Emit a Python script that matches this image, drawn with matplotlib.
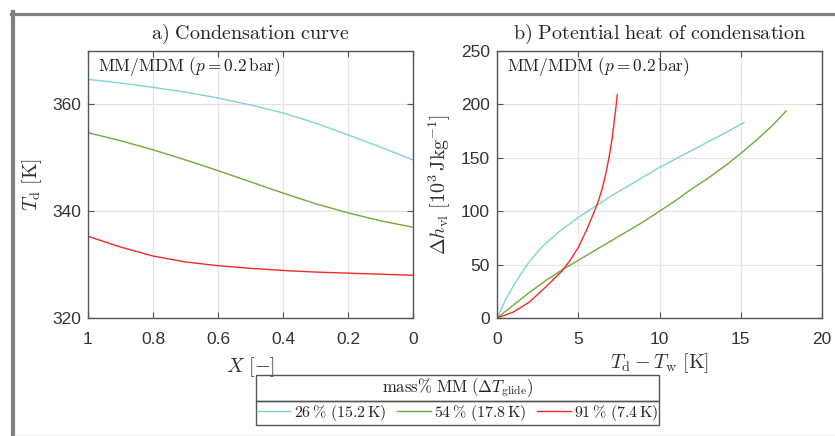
import numpy as np
import matplotlib
matplotlib.use("Agg")
import matplotlib.pyplot as plt
from matplotlib.lines import Line2D
from matplotlib.patches import Rectangle

plt.rcParams['mathtext.fontset'] = 'cm'
plt.rcParams['font.family'] = ['Liberation Sans', 'DejaVu Sans']

# a) condensation curve, T_d over vapour quality X
X_a = [1.0, 0.9, 0.8, 0.7, 0.6, 0.5, 0.4, 0.3, 0.2, 0.1, 0.0]
Td_26 = [364.7, 364.0, 363.2, 362.3, 361.2, 359.9, 358.4, 356.5, 354.3, 352.0, 349.6]
Td_54 = [354.7, 353.2, 351.5, 349.6, 347.6, 345.5, 343.4, 341.4, 339.7, 338.2, 337.0]
Td_91 = [335.3, 333.3, 331.6, 330.5, 329.8, 329.3, 328.9, 328.6, 328.4, 328.2, 328.0]

# b) potential heat of condensation over T_d - T_w
dT_26 = [0, 0.5, 1, 1.5, 2, 2.5, 3, 4, 5, 6, 7, 8, 9, 10, 11, 12, 13, 14, 15.2]
dh_26 = [0, 16, 30, 42, 53, 62, 70, 83, 94, 104, 114, 123, 132, 141, 149, 157, 165, 173, 183]
dT_54 = [0, 1, 2, 3, 4, 5, 6, 7, 8, 9, 10, 11, 12, 13, 14, 15, 16, 17, 17.8]
dh_54 = [0, 12, 24, 35, 45, 54, 63, 72, 81, 90, 100, 110, 121, 131, 142, 154, 167, 181, 194]
dT_91 = [0, 1, 2, 3, 4, 4.5, 5, 5.5, 6.0, 6.25, 6.45, 6.62, 6.76, 6.89, 7.0, 7.1, 7.18, 7.26, 7.34, 7.4]
dh_91 = [0, 5.5, 15, 29, 44, 54, 66, 82, 100, 110, 120, 130, 140, 150, 160, 170, 180, 190, 200, 209]

labels = [r'$26\,\%\ (15.2\,\mathrm{K})$', r'$54\,\%\ (17.8\,\mathrm{K})$', r'$91\,\%\ (7.4\,\mathrm{K})$']
colors = ['#7ed3d6', '#6fab3e', '#f22a26']

W, H = 835, 436
fig = plt.figure(figsize=(W / 100, H / 100), dpi=100)

def box(l, t, r, b):
    return [l / W, 1 - b / H, (r - l) / W, (b - t) / H]

ax1 = fig.add_axes(box(88, 51, 413, 318))
ax2 = fig.add_axes(box(497, 51, 822, 318))

for ax in (ax1, ax2):
    ax.grid(True, color='#e3e3e3', lw=0.9)
    ax.set_axisbelow(True)
    for s in ax.spines.values():
        s.set_color('#555555')
        s.set_linewidth(1.0)
    ax.tick_params(direction='in', top=True, right=True, length=4, width=0.8,
                   color='#555555', labelcolor='#333333', labelsize=12.5)
    ax.tick_params(axis='x', pad=10)
    ax.tick_params(axis='y', pad=5)
    ax.text(10 / 325, 1 - 4 / 267, r'$\mathrm{MM/MDM}\ (p = 0.2\,\mathrm{bar})$',
            transform=ax.transAxes, ha='left', va='top', fontsize=12.5, color='#222222')

ax1.plot(X_a, Td_26, color=colors[0], lw=1.0)
ax1.plot(X_a, Td_54, color=colors[1], lw=1.0)
ax1.plot(X_a, Td_91, color=colors[2], lw=1.0)
ax1.set_xlim(1, 0)
ax1.set_ylim(320, 370)
ax1.set_xticks([1, 0.8, 0.6, 0.4, 0.2, 0])
ax1.set_xticklabels(['1', '0.8', '0.6', '0.4', '0.2', '0'])
ax1.set_yticks([320, 340, 360])
ax1.set_title(r'$\mathrm{a)\ Condensation\ curve}$', fontsize=14.5, pad=9, color='#222222')
ax1.set_xlabel(r'$X\ [-]$', fontsize=14.5, color='#333333')
ax1.set_ylabel(r'$T_\mathrm{d}\ [\mathrm{K}]$', fontsize=14.5, color='#333333')
ax1.yaxis.set_label_coords(-0.135, 0.5)
ax1.xaxis.set_label_coords(0.5, -0.138)

ax2.plot(dT_26, dh_26, color=colors[0], lw=1.0)
ax2.plot(dT_54, dh_54, color=colors[1], lw=1.0)
ax2.plot(dT_91, dh_91, color=colors[2], lw=1.0)
ax2.set_xlim(0, 20)
ax2.set_ylim(0, 250)
ax2.set_xticks([0, 5, 10, 15, 20])
ax2.set_yticks([0, 50, 100, 150, 200, 250])
ax2.set_title(r'$\mathrm{b)\ Potential\ heat\ of\ condensation}$', fontsize=14.5, pad=9, color='#222222')
ax2.set_xlabel(r'$T_\mathrm{d} - T_\mathrm{w}\ [\mathrm{K}]$', fontsize=14.5, color='#333333')
ax2.set_ylabel(r'$\Delta h_\mathrm{vl}\ [10^3\,\mathrm{J kg}^{-1}]$', fontsize=14.5, color='#333333')
ax2.yaxis.set_label_coords(-0.135, 0.5)
ax2.xaxis.set_label_coords(0.5, -0.125)

# legend: title cell + entries cell
lx0, lx1, ly0, ly1, ly2 = 256, 659, 375, 401, 425
for t, b in ((ly0, ly1), (ly1, ly2)):
    fig.add_artist(Rectangle((lx0 / W, 1 - b / H), (lx1 - lx0) / W, (b - t) / H,
                             transform=fig.transFigure, fill=False, ec='#555555', lw=1.0))
fig.text((lx0 + lx1) / 2 / W, 1 - (ly0 + ly1) / 2 / H,
         r'$\mathrm{mass\%\ MM}\ (\Delta T_\mathrm{glide})$',
         ha='center', va='center', fontsize=12, color='#222222')
handles = [Line2D([], [], color=c, lw=1.0) for c in colors]
fig.legend(handles, labels, ncol=3, loc='center', frameon=False,
           bbox_to_anchor=((lx0 + lx1) / 2 / W, 1 - (ly1 + ly2) / 2 / H),
           fontsize=11.5, handlelength=2.1, handletextpad=0.2, columnspacing=0.7,
           labelcolor='#222222', borderpad=0, borderaxespad=0)

# figure window frame
fig.add_artist(Line2D([13 / W, 13 / W], [0, 1 - 12 / H], transform=fig.transFigure,
                      color='#808080', lw=3.0))
fig.add_artist(Line2D([11 / W, 1], [1 - 14 / H, 1 - 14 / H], transform=fig.transFigure,
                      color='#808080', lw=2.3))
fig.add_artist(Line2D([15 / W, 1], [1 - 435 / H, 1 - 435 / H], transform=fig.transFigure,
                      color='#f0f0f0', lw=1.0))

fig.savefig('out.png', dpi=100)
